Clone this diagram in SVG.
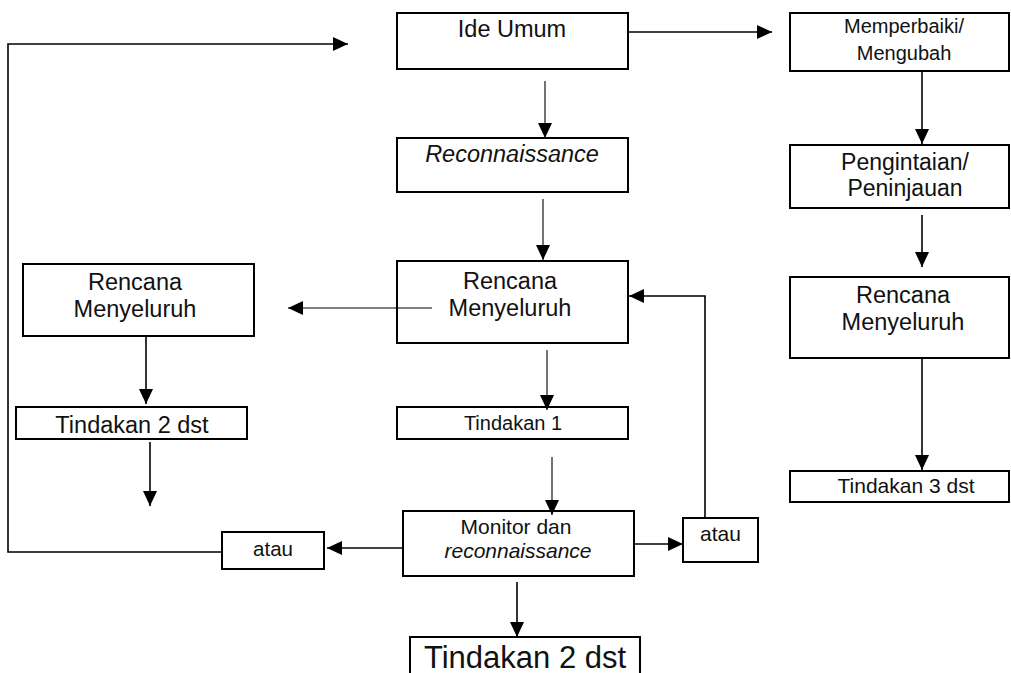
<svg xmlns="http://www.w3.org/2000/svg" width="1011" height="673" viewBox="0 0 1011 673">
<style>
.box{fill:none;stroke:#000;stroke-width:2}
.t{font-family:"Liberation Sans",Arial,sans-serif;fill:#111;text-anchor:middle}
.i{font-style:italic}
.c{fill:none;stroke:#000;stroke-width:1.6}
.thin{stroke-width:1.1}
</style>
<defs>
<marker id="ah" markerUnits="userSpaceOnUse" markerWidth="16" markerHeight="15" refX="15" refY="7" orient="auto">
<path d="M0,0 L15,7 L0,14 z" fill="#000"/>
</marker>
</defs>
<rect width="1011" height="673" fill="#fff"/>
<g id="connectors">
<line class="c thin" x1="545" y1="81" x2="545" y2="138" marker-end="url(#ah)"/>
<line class="c" x1="628" y1="32" x2="772" y2="32" marker-end="url(#ah)"/>
<line class="c" x1="922" y1="71" x2="922" y2="144" marker-end="url(#ah)"/>
<line class="c" x1="922" y1="215" x2="922" y2="267" marker-end="url(#ah)"/>
<line class="c" x1="922" y1="358" x2="922" y2="470" marker-end="url(#ah)"/>
<line class="c thin" x1="543" y1="199" x2="543" y2="260" marker-end="url(#ah)"/>
<line class="c thin" x1="432" y1="308" x2="288" y2="308" marker-end="url(#ah)"/>
<line class="c" x1="146" y1="336" x2="146" y2="404" marker-end="url(#ah)"/>
<line class="c" x1="150" y1="442" x2="150" y2="506" marker-end="url(#ah)"/>
<line class="c thin" x1="547" y1="350" x2="547" y2="410" marker-end="url(#ah)"/>
<line class="c thin" x1="552" y1="457" x2="552" y2="515" marker-end="url(#ah)"/>
<line class="c" x1="403" y1="548" x2="327" y2="548" marker-end="url(#ah)"/>
<polyline class="c" points="222,552 8,552 8,44 348,44" marker-end="url(#ah)"/>
<line class="c" x1="634" y1="544" x2="683" y2="544" marker-end="url(#ah)"/>
<polyline class="c" points="705,518 705,296 629,296" marker-end="url(#ah)"/>
<line class="c" x1="517" y1="582" x2="517" y2="637" marker-end="url(#ah)"/>
</g>
<g id="ide-umum">
<rect class="box" x="397" y="13" width="231" height="56"/>
<text class="t" x="512" y="37" font-size="23.5">Ide Umum</text>
</g>
<g id="reconnaissance">
<rect class="box" x="397" y="138" width="231" height="54"/>
<text class="t i" x="512" y="162" font-size="23.5">Reconnaissance</text>
</g>
<g id="memperbaiki">
<rect class="box" x="790" y="13" width="219" height="58"/>
<text class="t" x="904" y="33" font-size="20">Memperbaiki/</text>
<text class="t" x="904" y="60" font-size="20">Mengubah</text>
</g>
<g id="pengintaian">
<rect class="box" x="790" y="145" width="219" height="63"/>
<text class="t" x="905" y="170" font-size="23">Pengintaian/</text>
<text class="t" x="905" y="196" font-size="23">Peninjauan</text>
</g>
<g id="rencana-kanan">
<rect class="box" x="790" y="277" width="219" height="81"/>
<text class="t" x="903" y="303" font-size="23.5">Rencana</text>
<text class="t" x="903" y="330" font-size="23.5">Menyeluruh</text>
</g>
<g id="tindakan-3">
<rect class="box" x="790" y="471" width="219" height="31"/>
<text class="t" x="906" y="493" font-size="21">Tindakan 3 dst</text>
</g>
<g id="rencana-tengah">
<rect class="box" x="397" y="261" width="231" height="82"/>
<text class="t" x="510" y="289" font-size="23.5">Rencana</text>
<text class="t" x="510" y="316" font-size="23.5">Menyeluruh</text>
</g>
<g id="rencana-kiri">
<rect class="box" x="23" y="264" width="231" height="72"/>
<text class="t" x="135" y="290" font-size="23.5">Rencana</text>
<text class="t" x="135" y="317" font-size="23.5">Menyeluruh</text>
</g>
<g id="tindakan-2-kiri">
<rect class="box" x="16" y="407" width="231" height="32"/>
<text class="t" x="132" y="433" font-size="23.5">Tindakan 2 dst</text>
</g>
<g id="tindakan-1">
<rect class="box" x="397" y="407" width="231" height="32"/>
<text class="t" x="513" y="430" font-size="20">Tindakan 1</text>
</g>
<g id="monitor">
<rect class="box" x="403" y="511" width="231" height="65"/>
<text class="t" x="516" y="534" font-size="21">Monitor dan</text>
<text class="t i" x="518" y="558" font-size="21">reconnaissance</text>
</g>
<g id="atau-kiri">
<rect class="box" x="222" y="532" width="102" height="37"/>
<text class="t" x="273" y="556" font-size="20.5">atau</text>
</g>
<g id="atau-kanan">
<rect class="box" x="683" y="518" width="75" height="44"/>
<text class="t" x="720.5" y="541" font-size="21">atau</text>
</g>
<g id="tindakan-2-bawah">
<rect class="box" x="410" y="637" width="230" height="50"/>
<text class="t" x="525" y="668" font-size="31">Tindakan 2 dst</text>
</g>
</svg>
